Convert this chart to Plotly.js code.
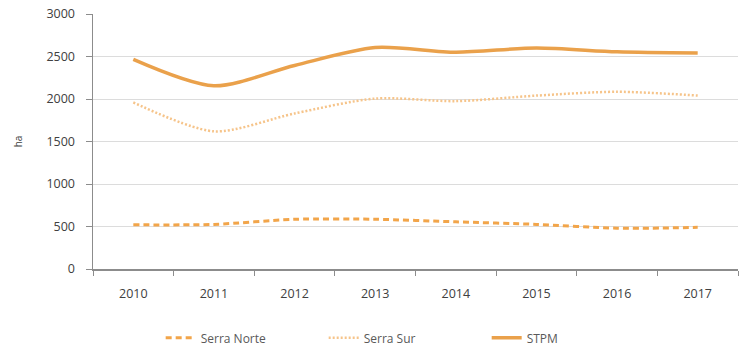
<!DOCTYPE html>
<html>
<head>
<meta charset="utf-8">
<script src="https://cdn.plot.ly/plotly-3.0.1.min.js"></script>
<style>html,body{margin:0;padding:0;background:#fff;}#chart{width:747px;height:347px;}</style>
</head>
<body>
<div id="chart"></div>
<script>
const years = ['2010','2011','2012','2013','2014','2015','2016','2017'];
const serraNorte = [520, 525, 585, 585, 555, 525, 480, 490];
const serraSur = [1960, 1620, 1830, 2005, 1975, 2040, 2085, 2040];
const stpm = [2465, 2155, 2395, 2605, 2550, 2600, 2555, 2540];
const yTicks = [0, 500, 1000, 1500, 2000, 2500, 3000];

const traces = [
  {x: years, y: serraNorte, name: 'Serra Norte', type: 'scatter', mode: 'lines',
   line: {color: '#F2A54A', width: 3, dash: '6px,4px', shape: 'spline', smoothing: 0.8}},
  {x: years, y: serraSur, name: 'Serra Sur', type: 'scatter', mode: 'lines',
   line: {color: '#F6C48A', width: 2.5, dash: '2px,2px', shape: 'spline', smoothing: 0.8}},
  {x: years, y: stpm, name: 'STPM', type: 'scatter', mode: 'lines',
   line: {color: '#EAA14B', width: 3.5, shape: 'spline', smoothing: 0.8}}
];

const layout = {
  width: 747, height: 347,
  margin: {l: 93, r: 9, t: 14, b: 78, autoexpand: false},
  paper_bgcolor: '#ffffff', plot_bgcolor: '#ffffff',
  font: {family: 'Open Sans, Liberation Sans, sans-serif', size: 12, color: '#595959'},
  showlegend: true,
  legend: {orientation: 'h', x: 0.484, xanchor: 'center', y: -0.27, yanchor: 'middle',
           font: {size: 12, color: '#595959'}, entrywidth: 118, entrywidthmode: 'pixels'},
  xaxis: {type: 'category', range: [-0.5, 7.5], showgrid: false, zeroline: false,
          showline: true, linecolor: '#8c8c8c', linewidth: 1.5,
          ticks: 'outside', tickson: 'boundaries', ticklen: 5, tickcolor: '#8c8c8c',
          ticklabelstandoff: 12,
          tickfont: {size: 12.5, color: '#404040'}, fixedrange: true},
  yaxis: {range: [0, 3000], tickvals: yTicks, ticktext: yTicks.map(String),
          showgrid: true, gridcolor: '#dcdcdc', gridwidth: 1, zeroline: false,
          showline: true, linecolor: '#8c8c8c', linewidth: 1.5,
          ticks: 'outside', ticklen: 6, tickcolor: '#8c8c8c',
          ticklabelstandoff: 8,
          tickfont: {size: 12.5, color: '#404040'},
          title: {text: 'ha', font: {size: 10, color: '#404040'}, standoff: 22}}
};

Plotly.newPlot('chart', traces, layout, {displayModeBar: false, staticPlot: true});
</script>
</body>
</html>
